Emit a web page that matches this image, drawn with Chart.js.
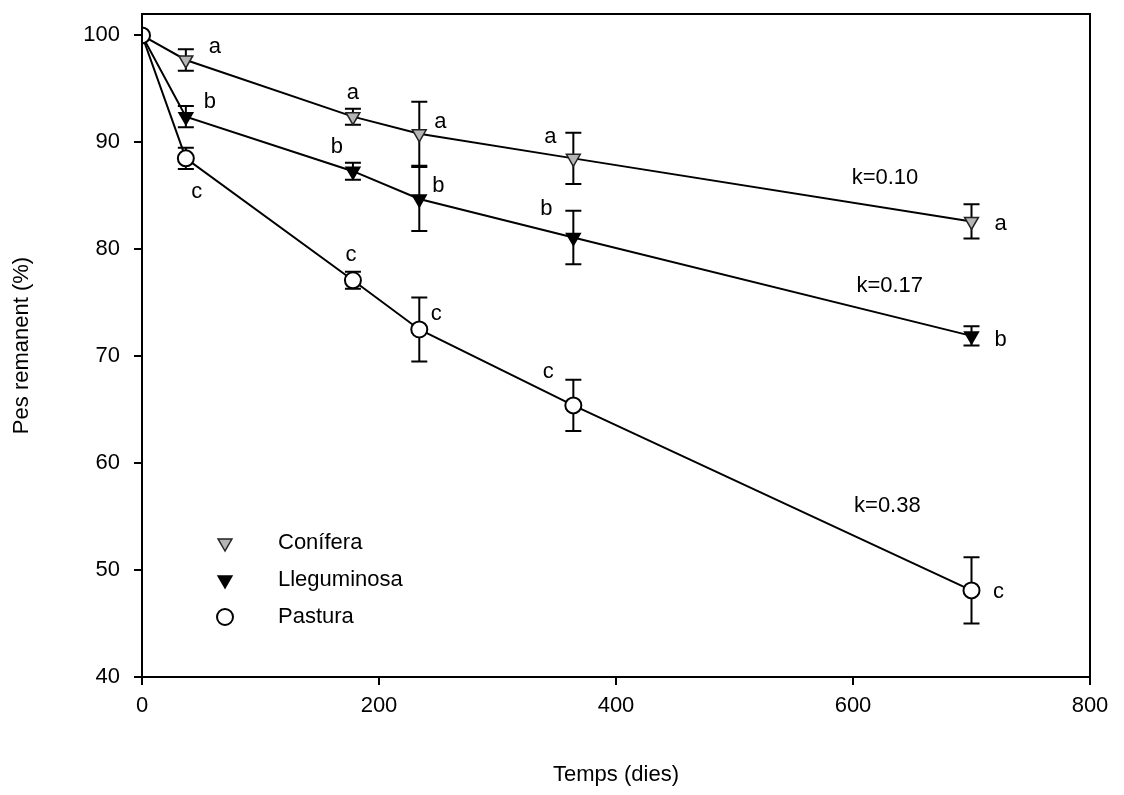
<!DOCTYPE html>
<html>
<head>
<meta charset="utf-8">
<script src="https://cdn.jsdelivr.net/npm/chart.js@4/dist/chart.umd.min.js"></script>
<style>
  body { margin: 0; background: #fff; }
  canvas { display: block; }
</style>
</head>
<body>
<canvas id="chart" width="1124" height="795"></canvas>
<script>
// sampling days
const days = [0, 37, 178, 234, 364, 700];

// remaining weight (%) and error per litter type
const coniferaMean = [100, 97.7, 92.4, 90.8, 88.5, 82.6];
const coniferaErr = [0, 1.0, 0.75, 3.0, 2.4, 1.6];
const lleguminosaMean = [100, 92.4, 87.3, 84.7, 81.1, 71.9];
const lleguminosaErr = [0, 1.0, 0.8, 3.0, 2.5, 0.9];
const pasturaMean = [100, 88.5, 77.1, 72.5, 65.4, 48.1];
const pasturaErr = [0, 1.0, 0.8, 3.0, 2.4, 3.1];

// significance letters
const coniferaLetters = ['', 'a', 'a', 'a', 'a', 'a'];
const lleguminosaLetters = ['', 'b', 'b', 'b', 'b', 'b'];
const pasturaLetters = ['', 'c', 'c', 'c', 'c', 'c'];

// decay constants, placed at (day, %)
const kLabels = ['k=0.10', 'k=0.17', 'k=0.38'];
const kDays = [627, 631, 629];
const kLevels = [86.7, 76.6, 56.0];

const yTicks = [40, 50, 60, 70, 80, 90, 100];

const FONT = '"Liberation Sans", Arial, sans-serif';

// pixel offsets for the letters, per series, per point
const letterOffsets = [
  [null, [29, -13], [0, -24], [21, -12], [-23, -21], [29, 2]],
  [null, [24, -15], [-16, -24], [19, -13], [-27, -29], [29, 4]],
  [null, [11, 34], [-2, -25], [17, -16], [-25, -33], [27, 2]]
];

function toPoints(mean) {
  return days.map((d, i) => ({x: d, y: mean[i]}));
}

function drawMarker(ctx, style, fill, stroke, x, y) {
  ctx.save();
  ctx.fillStyle = fill;
  ctx.strokeStyle = stroke;
  ctx.lineWidth = style === 'circle' ? 2 : 1.5;
  ctx.beginPath();
  if (style === 'circle') {
    ctx.arc(x, y, 8, 0, Math.PI * 2);
  } else {
    ctx.moveTo(x, y + 8);
    ctx.lineTo(x - 6.9, y - 4);
    ctx.lineTo(x + 6.9, y - 4);
    ctx.closePath();
  }
  ctx.fill();
  ctx.stroke();
  ctx.restore();
}

const errorBars = {
  id: 'errorBars',
  beforeDatasetsDraw(chart) {
    const {ctx, scales: {x, y}} = chart;
    ctx.save();
    ctx.strokeStyle = '#000';
    ctx.lineWidth = 2;
    chart.data.datasets.forEach(ds => {
      ds.data.forEach((p, i) => {
        const e = ds.errors[i];
        if (!e) return;
        const px = x.getPixelForValue(p.x);
        const top = y.getPixelForValue(p.y + e);
        const bot = y.getPixelForValue(p.y - e);
        ctx.beginPath();
        ctx.moveTo(px, top); ctx.lineTo(px, bot);
        ctx.moveTo(px - 8, top); ctx.lineTo(px + 8, top);
        ctx.moveTo(px - 8, bot); ctx.lineTo(px + 8, bot);
        ctx.stroke();
      });
    });
    ctx.restore();
  }
};

const annotations = {
  id: 'annotations',
  afterDraw(chart) {
    const {ctx, chartArea: a, scales: {x, y}} = chart;
    ctx.save();

    // frame
    ctx.strokeStyle = '#000';
    ctx.lineWidth = 2;
    ctx.strokeRect(a.left, a.top, a.right - a.left, a.bottom - a.top);

    ctx.fillStyle = '#000';
    ctx.font = '22px ' + FONT;
    ctx.textAlign = 'center';
    ctx.textBaseline = 'middle';

    // letters
    chart.data.datasets.forEach((ds, s) => {
      ds.letters.forEach((l, i) => {
        if (!l) return;
        const off = letterOffsets[s][i];
        const px = x.getPixelForValue(ds.data[i].x) + off[0];
        const py = y.getPixelForValue(ds.data[i].y) + off[1];
        ctx.fillText(l, px, py);
      });
    });

    // k values
    kLabels.forEach((t, i) => {
      ctx.fillText(t, x.getPixelForValue(kDays[i]), y.getPixelForValue(kLevels[i]));
    });

    // legend
    ctx.textAlign = 'left';
    const legendY = [543, 580, 617];
    chart.data.datasets.forEach((ds, s) => {
      drawMarker(ctx, ds.pointStyle, ds.pointBackgroundColor, ds.pointBorderColor, 225, legendY[s]);
      ctx.fillStyle = '#000';
      ctx.fillText(ds.label, 278, legendY[s]);
    });
    ctx.restore();
  }
};

const hideFirst = c => c.dataIndex === 0 ? 0 : 8;

new Chart('chart', {
  type: 'line',
  data: {
    datasets: [
      {
        label: 'Conífera',
        data: toPoints(coniferaMean),
        errors: coniferaErr,
        letters: coniferaLetters,
        pointStyle: 'triangle',
        pointRotation: 180,
        pointRadius: hideFirst,
        pointBackgroundColor: '#b5b5b5',
        pointBorderColor: '#222',
        pointBorderWidth: 1.5,
        order: 2
      },
      {
        label: 'Lleguminosa',
        data: toPoints(lleguminosaMean),
        errors: lleguminosaErr,
        letters: lleguminosaLetters,
        pointStyle: 'triangle',
        pointRotation: 180,
        pointRadius: hideFirst,
        pointBackgroundColor: '#000',
        pointBorderColor: '#000',
        pointBorderWidth: 1.5,
        order: 1
      },
      {
        label: 'Pastura',
        data: toPoints(pasturaMean),
        errors: pasturaErr,
        letters: pasturaLetters,
        pointStyle: 'circle',
        pointRadius: 8,
        pointBackgroundColor: '#fff',
        pointBorderColor: '#000',
        pointBorderWidth: 2,
        order: 0
      }
    ]
  },
  options: {
    responsive: false,
    animation: false,
    borderColor: '#000',
    elements: {
      line: {borderColor: '#000', borderWidth: 2, tension: 0}
    },
    layout: {padding: {top: 14, right: 34, left: 0, bottom: 0}},
    plugins: {legend: {display: false}, tooltip: {enabled: false}},
    scales: {
      x: {
        type: 'linear',
        min: 0,
        max: 800,
        ticks: {stepSize: 200, color: '#000', padding: 8, font: {family: FONT, size: 22}},
        grid: {drawOnChartArea: false, tickLength: 8, color: '#000', lineWidth: 2},
        border: {color: '#000', width: 2},
        title: {display: true, text: 'Temps (dies)', color: '#000',
                font: {family: FONT, size: 22}, padding: {top: 0, bottom: 7}},
        afterFit(scale) {
          scale.height = 118;
          scale.paddingLeft = 0;
          scale.paddingRight = 0;
        }
      },
      y: {
        min: 40,
        max: 102,
        afterBuildTicks(scale) { scale.ticks = yTicks.map(v => ({value: v})); },
        ticks: {color: '#000', padding: 14, font: {family: FONT, size: 22}},
        grid: {drawOnChartArea: false, tickLength: 8, color: '#000', lineWidth: 2},
        border: {color: '#000', width: 2},
        title: {display: true, text: 'Pes remanent (%)', color: '#000',
                font: {family: FONT, size: 22}, padding: {top: 9, bottom: 0}},
        afterFit(scale) {
          scale.width = 142;
          scale.paddingTop = 0;
          scale.paddingBottom = 0;
        }
      }
    }
  },
  plugins: [errorBars, annotations]
});
</script>
</body>
</html>
